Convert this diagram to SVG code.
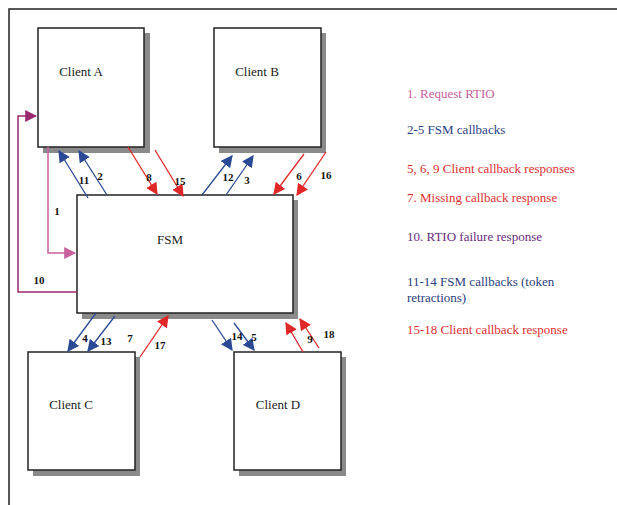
<svg xmlns="http://www.w3.org/2000/svg" width="617" height="505" viewBox="0 0 617 505">
<style>
.box{fill:#fff;stroke:#222;stroke-width:1.5}
.sh{fill:#8a8a8a}
text{font-family:"Liberation Serif","Times New Roman","DejaVu Serif",serif}
.nt{font-size:13px;fill:#222}
.lb{font-size:11px;font-weight:bold;fill:#111}
.lg{font-size:13px}
.blue{stroke:#2b4a95;stroke-width:1.3;fill:none}
.red{stroke:#e02828;stroke-width:1.3;fill:none}
.pink{stroke:#c8609e;stroke-width:1.5;fill:none}
.purp{stroke:#9a2a70;stroke-width:1.5;fill:none}
</style>
<defs>
<marker id="mb" viewBox="0 0 10 10" refX="9" refY="5" markerWidth="12" markerHeight="12" markerUnits="userSpaceOnUse" orient="auto"><path d="M0,0L10,5L0,10z" fill="#2b4a95"/></marker>
<marker id="mr" viewBox="0 0 10 10" refX="9" refY="5" markerWidth="12" markerHeight="12" markerUnits="userSpaceOnUse" orient="auto"><path d="M0,0L10,5L0,10z" fill="#e02828"/></marker>
<marker id="mp" viewBox="0 0 10 10" refX="9" refY="5" markerWidth="12" markerHeight="12" markerUnits="userSpaceOnUse" orient="auto"><path d="M0,0L10,5L0,10z" fill="#c8609e"/></marker>
<marker id="mu" viewBox="0 0 10 10" refX="9" refY="5" markerWidth="12" markerHeight="12" markerUnits="userSpaceOnUse" orient="auto"><path d="M0,0L10,5L0,10z" fill="#9a2a70"/></marker>
</defs>
<rect width="617" height="505" fill="#fff"/>
<path d="M9,505V9H617" fill="none" stroke="#222" stroke-width="1.5"/>

<g id="clientA"><rect class="sh" x="43" y="33" width="107" height="120"/><rect class="box" x="38" y="28" width="106" height="119"/><text class="nt" x="81" y="76" text-anchor="middle">Client A</text></g>
<g id="clientB"><rect class="sh" x="219" y="33" width="107" height="120"/><rect class="box" x="214" y="28" width="107" height="119"/><text class="nt" x="257" y="76" text-anchor="middle">Client B</text></g>
<g id="fsm"><rect class="sh" x="82" y="200" width="216" height="119"/><rect class="box" x="77" y="195" width="216" height="118"/><text class="nt" x="170" y="244" text-anchor="middle">FSM</text></g>
<g id="clientC"><rect class="sh" x="33" y="357" width="107" height="119"/><rect class="box" x="28" y="352" width="107" height="118"/><text class="nt" x="71" y="409" text-anchor="middle">Client C</text></g>
<g id="clientD"><rect class="sh" x="239" y="357" width="107" height="119"/><rect class="box" x="234" y="352" width="107" height="118"/><text class="nt" x="278" y="409" text-anchor="middle">Client D</text></g>

<g id="connectors">
<path class="pink" d="M48,147V253H75" marker-end="url(#mp)"/>
<path class="purp" d="M77,292H18V116H36" marker-end="url(#mu)"/>
<path class="blue" d="M88,198L59,151" marker-end="url(#mb)"/>
<path class="blue" d="M107,195L79,151" marker-end="url(#mb)"/>
<path class="red" d="M128,147L157,194" marker-end="url(#mr)"/>
<path class="red" d="M155,150L183,196" marker-end="url(#mr)"/>
<path class="blue" d="M202,195L232,156" marker-end="url(#mb)"/>
<path class="blue" d="M226,195L253,156" marker-end="url(#mb)"/>
<path class="red" d="M304,154L274,194" marker-end="url(#mr)"/>
<path class="red" d="M326,152L297,195" marker-end="url(#mr)"/>
<path class="blue" d="M96,313L68,351" marker-end="url(#mb)"/>
<path class="blue" d="M115,316L88,351" marker-end="url(#mb)"/>
<path class="red" d="M140,357L168,316" marker-end="url(#mr)"/>
<path class="blue" d="M212,320L232,350" marker-end="url(#mb)"/>
<path class="blue" d="M234,323L254,350" marker-end="url(#mb)"/>
<path class="red" d="M303,352L286,323" marker-end="url(#mr)"/>
<path class="red" d="M319,348L300,319" marker-end="url(#mr)"/>
<text class="lb" x="57" y="215" text-anchor="middle">1</text>
<text class="lb" x="39" y="284" text-anchor="middle">10</text>
<text class="lb" x="84" y="184" text-anchor="middle">11</text>
<text class="lb" x="100" y="180" text-anchor="middle">2</text>
<text class="lb" x="149" y="181" text-anchor="middle">8</text>
<text class="lb" x="180" y="185" text-anchor="middle">15</text>
<text class="lb" x="228" y="181" text-anchor="middle">12</text>
<text class="lb" x="247" y="184" text-anchor="middle">3</text>
<text class="lb" x="299" y="180" text-anchor="middle">6</text>
<text class="lb" x="326" y="179" text-anchor="middle">16</text>
<text class="lb" x="85" y="342" text-anchor="middle">4</text>
<text class="lb" x="106" y="345" text-anchor="middle">13</text>
<text class="lb" x="130" y="342" text-anchor="middle">7</text>
<text class="lb" x="160" y="349" text-anchor="middle">17</text>
<text class="lb" x="237" y="340" text-anchor="middle">14</text>
<text class="lb" x="254" y="341" text-anchor="middle">5</text>
<text class="lb" x="310" y="343" text-anchor="middle">9</text>
<text class="lb" x="329" y="338" text-anchor="middle">18</text>
</g>

<g id="legend">
<text class="lg" x="407" y="98" fill="#c8609e">1. Request RTIO</text>
<text class="lg" x="407" y="134" fill="#2b3f85">2-5 FSM callbacks</text>
<text class="lg" x="407" y="173" fill="#e03030">5, 6, 9 Client callback responses</text>
<text class="lg" x="407" y="202" fill="#e03030">7. Missing callback response</text>
<text class="lg" x="407" y="241" fill="#6a2a80">10. RTIO failure response</text>
<text class="lg" x="407" y="286" fill="#2b4080">11-14 FSM callbacks (token</text>
<text class="lg" x="407" y="302" fill="#2b4080">retractions)</text>
<text class="lg" x="407" y="334" fill="#e03030">15-18 Client callback response</text>
</g>
</svg>
